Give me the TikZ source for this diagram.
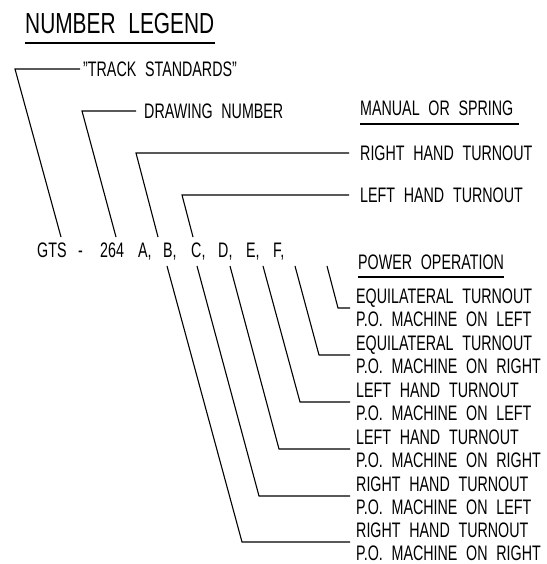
\documentclass[tikz,border=0pt]{standalone}
\usepackage{fontspec}
\setmainfont{Liberation Sans}[FakeStretch=0.68, WordSpace=2.2]
\newfontfamily\headingfont{Liberation Sans}[FakeStretch=0.72, WordSpace=2.2]

\begin{document}
\begin{tikzpicture}[x=1pt, y=-1pt,
    leader/.style={line width=1.1pt},
    underline/.style={line width=2pt},
    caption/.style={anchor=west, inner sep=0pt, text height=15pt, text depth=0pt,
      font=\fontsize{21}{23.5}\selectfont},
    twoline/.style={anchor=west, inner sep=0pt, align=left,
      font=\fontsize{21}{23.5}\selectfont},
  ]
  \useasboundingbox (0,0) rectangle (546,564);

  % heading
  \node[caption, text height=21pt, font=\headingfont\fontsize{29}{32}\selectfont] (title) at (25,23) {NUMBER LEGEND};
  \draw[underline] ([yshift=-9pt]title.south west) -- ([yshift=-9pt]title.south east);

  % the number itself
  \node[caption] (gts) at (37,250) {GTS};
  \node[caption] (dash) at (78,250) {-};
  \node[caption] (dwg) at (100,250) {264};
  \node[caption] (letter-a) at (138,250) {A,};
  \node[caption] (letter-b) at (163,250) {B,};
  \node[caption] (letter-c) at (191,250) {C,};
  \node[caption] (letter-d) at (218,250) {D,};
  \node[caption] (letter-e) at (246,250) {E,};
  \node[caption] (letter-f) at (273,250) {F,};

  % upper legend
  \node[caption] (standards) at (83,69) {\symbol{34}TRACK STANDARDS\symbol{34}};
  \node[caption] (drawing) at (144,111) {DRAWING NUMBER};
  \node[caption] (manual) at (360,108) {MANUAL OR SPRING};
  \draw[underline] ([yshift=-8pt]manual.south west) -- ([xshift=5pt,yshift=-8pt]manual.south east);
  \node[caption] (manual-rh) at (360,153) {RIGHT HAND TURNOUT};
  \node[caption] (manual-lh) at (360,195) {LEFT HAND TURNOUT};

  \coordinate (standards-foot) at (61,237);
  \coordinate (standards-knee) at (15,69);
  \coordinate (drawing-foot) at (116,237);
  \coordinate (drawing-knee) at (82,111);
  \coordinate (manual-rh-foot) at (158,237);
  \coordinate (manual-rh-knee) at (136,153);
  \coordinate (manual-lh-foot) at (193,237);
  \coordinate (manual-lh-knee) at (182,195);

  \draw[leader] (standards-foot) -- (standards-knee) -- ([xshift=-3pt]standards.west);
  \draw[leader] (drawing-foot) -- (drawing-knee) -- ([xshift=-8pt]drawing.west);
  \draw[leader] (manual-rh-foot) -- (manual-rh-knee) -- ([xshift=-11pt]manual-rh.west);
  \draw[leader] (manual-lh-foot) -- (manual-lh-knee) -- ([xshift=-11pt]manual-lh.west);

  % lower legend
  \node[caption] (power) at (358,262) {POWER OPERATION};
  \draw[underline] ([yshift=-7pt]power.south west) -- ([yshift=-7pt]power.south east);
  \node[twoline] (equi-left) at (356,308) {EQUILATERAL TURNOUT\\P.O. MACHINE ON LEFT};
  \node[twoline] (equi-right) at (356,355) {EQUILATERAL TURNOUT\\P.O. MACHINE ON RIGHT};
  \node[twoline] (lh-left) at (356,402) {LEFT HAND TURNOUT\\P.O. MACHINE ON LEFT};
  \node[twoline] (lh-right) at (356,449) {LEFT HAND TURNOUT\\P.O. MACHINE ON RIGHT};
  \node[twoline] (rh-left) at (356,496) {RIGHT HAND TURNOUT\\P.O. MACHINE ON LEFT};
  \node[twoline] (rh-right) at (356,542) {RIGHT HAND TURNOUT\\P.O. MACHINE ON RIGHT};

  \coordinate (equi-left-foot) at (327,266);
  \coordinate (equi-left-knee) at (338,308);
  \coordinate (equi-right-foot) at (295,266);
  \coordinate (equi-right-knee) at (319,355);
  \coordinate (lh-left-foot) at (263,266);
  \coordinate (lh-left-knee) at (300,402);
  \coordinate (lh-right-foot) at (230,266);
  \coordinate (lh-right-knee) at (279,449);
  \coordinate (rh-left-foot) at (197,266);
  \coordinate (rh-left-knee) at (259,496);
  \coordinate (rh-right-foot) at (167,266);
  \coordinate (rh-right-knee) at (242,542);

  \draw[leader] (equi-left-foot) -- (equi-left-knee) -- ([xshift=-6pt]equi-left.west);
  \draw[leader] (equi-right-foot) -- (equi-right-knee) -- ([xshift=-6pt]equi-right.west);
  \draw[leader] (lh-left-foot) -- (lh-left-knee) -- ([xshift=-6pt]lh-left.west);
  \draw[leader] (lh-right-foot) -- (lh-right-knee) -- ([xshift=-6pt]lh-right.west);
  \draw[leader] (rh-left-foot) -- (rh-left-knee) -- ([xshift=-6pt]rh-left.west);
  \draw[leader] (rh-right-foot) -- (rh-right-knee) -- ([xshift=-6pt]rh-right.west);
\end{tikzpicture}
\end{document}
